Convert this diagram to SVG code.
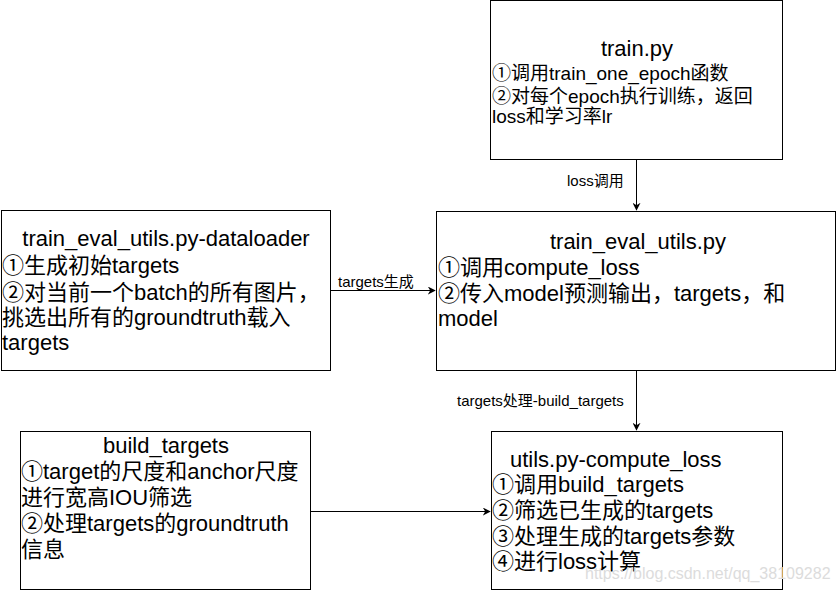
<svg xmlns="http://www.w3.org/2000/svg" width="838" height="591" viewBox="0 0 838 591">
<style>
.box{fill:#fff;stroke:#000;stroke-width:1}
.t{font-family:"Liberation Sans","Noto Sans CJK SC",sans-serif;font-size:22px;fill:#000}
.s{font-size:19px}
.lbl{font-family:"Liberation Sans","Noto Sans CJK SC",sans-serif;font-size:15px;fill:#000}
.edge{stroke:#000;stroke-width:1;fill:none;marker-end:url(#arr)}
.wm{font-family:"Liberation Sans",sans-serif;font-size:16px;fill:#dcdcdc}
</style>
<defs>
<marker id="arr" viewBox="0 0 10 10" refX="9" refY="5" markerWidth="8" markerHeight="8" markerUnits="userSpaceOnUse" orient="auto">
<path d="M0,0 L10,5 L0,10 L3,5 Z" fill="#000"/>
</marker>
</defs>
<rect width="838" height="591" fill="#fff"/>
<g id="connectors">
<line class="edge" x1="636.5" y1="159.5" x2="636.5" y2="210"/>
<line class="edge" x1="330.5" y1="290.5" x2="435" y2="290.5"/>
<line class="edge" x1="636.5" y1="370.5" x2="636.5" y2="430"/>
<line class="edge" x1="310.5" y1="511.5" x2="490" y2="511.5"/>
<text class="lbl" x="567" y="186">loss调用</text>
<text class="lbl" x="338" y="287">targets生成</text>
<text class="lbl" x="457" y="406">targets处理-build_targets</text>
</g>
<g id="train">
<rect class="box" x="490.5" y="0.5" width="292" height="159"/>
<text class="t" x="637" y="56" text-anchor="middle">train.py</text>
<text class="t s" x="492" y="80">①调用train_one_epoch函数</text>
<text class="t s" x="492" y="103">②对每个epoch执行训练，返回</text>
<text class="t s" x="492" y="123">loss和学习率lr</text>
</g>
<g id="dataloader">
<rect class="box" x="1.5" y="210.5" width="329" height="160"/>
<text class="t" x="166" y="246" text-anchor="middle">train_eval_utils.py-dataloader</text>
<text class="t" x="2" y="273">①生成初始targets</text>
<text class="t" x="2" y="300">②对当前一个batch的所有图片，</text>
<text class="t" x="2" y="325">挑选出所有的groundtruth载入</text>
<text class="t" x="2" y="350">targets</text>
</g>
<g id="train_eval_utils">
<rect class="box" x="436.5" y="211.5" width="399" height="159"/>
<text class="t" x="638" y="249" text-anchor="middle">train_eval_utils.py</text>
<text class="t" x="438" y="275">①调用compute_loss</text>
<text class="t" x="438" y="301">②传入model预测输出，targets，和</text>
<text class="t" x="438" y="326">model</text>
</g>
<g id="build_targets">
<rect class="box" x="20.5" y="431.5" width="290" height="158"/>
<text class="t" x="166" y="453" text-anchor="middle">build_targets</text>
<text class="t" x="21" y="479">①target的尺度和anchor尺度</text>
<text class="t" x="21" y="505">进行宽高IOU筛选</text>
<text class="t" x="21" y="531">②处理targets的groundtruth</text>
<text class="t" x="21" y="557">信息</text>
</g>
<g id="compute_loss">
<rect class="box" x="491.5" y="431.5" width="291" height="158"/>
<text class="t" x="510" y="467">utils.py-compute_loss</text>
<text class="t" x="492" y="492">①调用build_targets</text>
<text class="t" x="492" y="518">②筛选已生成的targets</text>
<text class="t" x="492" y="544">③处理生成的targets参数</text>
<text class="t" x="492" y="569">④进行loss计算</text>
</g>
<text class="wm" x="585" y="579">https://blog.csdn.net/qq_38109282</text>
</svg>
